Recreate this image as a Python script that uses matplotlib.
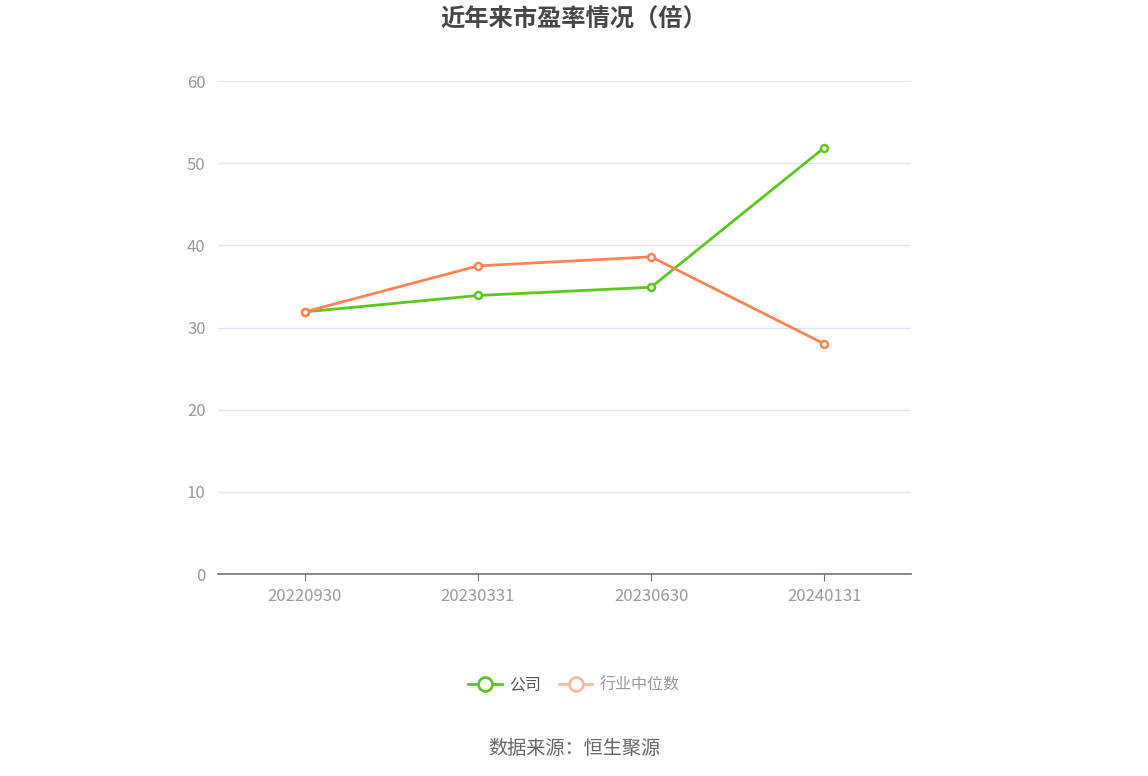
import matplotlib
matplotlib.use("Agg")
import matplotlib.pyplot as plt
from matplotlib.lines import Line2D

plt.rcParams['font.family'] = ['Noto Sans CJK SC', 'DejaVu Sans']

# data
dates = ["20220930", "20230331", "20230630", "20240131"]
company = [31.9, 33.9, 34.9, 51.9]
industry = [31.9, 37.5, 38.6, 28.0]
yticks = [0, 10, 20, 30, 40, 50, 60]

green = "#5ac81e"
orange = "#fc8452"

fig = plt.figure(figsize=(11.48, 7.76), dpi=100)
ax = fig.add_axes([0.19, 0.2603, 0.6035, 0.6353])

x = range(len(dates))
ax.plot(x, company, color=green, lw=2, marker="o", ms=5, mfc="white",
        mec=green, mew=1.8, zorder=3)
ax.plot(x, industry, color=orange, lw=2, marker="o", ms=5, mfc="white",
        mec=orange, mew=1.8, zorder=3)

ax.set_xlim(-0.5, len(dates) - 0.5)
ax.set_ylim(0, 60)
ax.set_yticks(yticks)
ax.set_xticks(list(x))
ax.set_xticklabels(dates)
ax.grid(axis="y", color="#e0e6f1", lw=1)
ax.set_axisbelow(True)
for s in ["top", "right", "left"]:
    ax.spines[s].set_visible(False)
ax.spines["bottom"].set_color("#6e7079")
ax.spines["bottom"].set_linewidth(1.2)
ax.tick_params(axis="y", length=0, pad=9, labelsize=12, labelcolor="#999999")
ax.tick_params(axis="x", length=5, color="#6e7079", pad=5, labelsize=12,
               labelcolor="#999999")

fig.text(0.5, 0.975, "近年来市盈率情况（倍）", ha="center", va="center",
         fontsize=17.5, fontweight="bold", color="#464646")

handles = [
    Line2D([0], [0], color=green, lw=2, marker="o", ms=10, mfc="white",
           mec=green, mew=2),
    Line2D([0], [0], color="#fdb99c", lw=2, marker="o", ms=10, mfc="white",
           mec="#fdb99c", mew=2),
]
leg = fig.legend(handles, ["公司", "行业中位数"], loc="center",
                 bbox_to_anchor=(0.5, 0.117), ncol=2, frameon=False,
                 fontsize=11.5, handlelength=2.1, columnspacing=1.1,
                 handletextpad=0.45)
leg.get_texts()[0].set_color("#555555")
leg.get_texts()[1].set_color("#999999")

fig.text(0.5, 0.036, "数据来源：恒生聚源", ha="center", va="center",
         fontsize=13.8, color="#666666")

fig.savefig("out.png", dpi=100)
